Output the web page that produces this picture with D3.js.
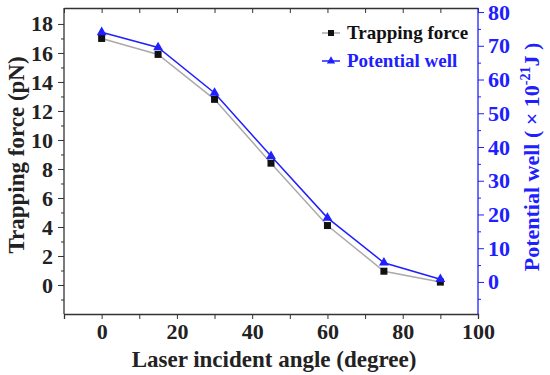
<!DOCTYPE html>
<html>
<head>
<meta charset="utf-8">
<script src="https://cdn.jsdelivr.net/npm/d3@7"></script>
<style>
  body { margin: 0; background: #fff; }
  svg text { font-family: "Times New Roman", "Liberation Serif", serif; font-weight: bold; }
</style>
</head>
<body>
<div id="app"></div>
<script>
const angles = [0, 15, 30, 45, 60, 75, 90]
const trappingForce = [17.0, 15.9, 12.8, 8.4, 4.1, 0.95, 0.2]
const potentialWell = [74, 69.5, 56, 37.3, 19, 5.7, 0.8]
const xTicks = [0, 20, 40, 60, 80, 100]
const leftTicks = [0, 2, 4, 6, 8, 10, 12, 14, 16, 18]
const rightTicks = [0, 10, 20, 30, 40, 50, 60, 70, 80]

const W = 550, H = 375
const m = { left: 64, right: 72, top: 8, bottom: 61 }
const blue = "#2020ff"

const svg = d3.select("#app").append("svg")
    .attr("width", W)
    .attr("height", H)

const x = d3.scaleLinear().domain([-10, 100]).range([m.left, W - m.right])
const yL = d3.scaleLinear().domain([-2, 19.1]).range([H - m.bottom, m.top])
const yR = d3.scaleLinear().domain([-9.5, 81.2]).range([H - m.bottom, m.top])

// bottom axis
const bx = svg.append("g")
    .attr("transform", `translate(0,${H - m.bottom})`)
    .call(d3.axisBottom(x).tickValues(d3.range(-10, 101, 10)).tickSize(5).tickPadding(4)
      .tickFormat(d => xTicks.includes(d) ? d : ""))
bx.selectAll("text").attr("font-size", 22).attr("fill", "#222")
bx.select(".domain").attr("stroke", "#333").attr("stroke-width", 1.3)
bx.selectAll(".tick line").attr("stroke", "#333")

// top axis (ticks only)
const tx = svg.append("g")
    .attr("transform", `translate(0,${m.top})`)
    .call(d3.axisTop(x).tickValues(d3.range(-10, 101, 10)).tickSizeInner(-5).tickSizeOuter(0).tickFormat(""))
tx.select(".domain").attr("stroke", "#333").attr("stroke-width", 1.3)
tx.selectAll(".tick line").attr("stroke", "#333")

// left axis
const ly = svg.append("g")
    .attr("transform", `translate(${m.left},0)`)
    .call(d3.axisLeft(yL).tickValues(d3.range(-1, 19, 1)).tickSizeOuter(0)
      .tickFormat(d => leftTicks.includes(d) ? d : "").tickPadding(5))
ly.selectAll(".tick line").attr("x2", d => leftTicks.includes(d) ? -6 : -3).attr("stroke", "#333")
ly.selectAll("text").attr("font-size", 22).attr("fill", "#222")
ly.select(".domain").attr("stroke", "#333").attr("stroke-width", 1.3)
  .attr("d", `M0,${m.top}V${H - m.bottom}`)

// right axis
const ry = svg.append("g")
    .attr("transform", `translate(${W - m.right},0)`)
    .call(d3.axisRight(yR).tickValues(d3.range(-5, 81, 5)).tickSizeOuter(0)
      .tickFormat(d => rightTicks.includes(d) ? d : "").tickPadding(4))
ry.selectAll(".tick line").attr("x2", d => rightTicks.includes(d) ? 6 : 3).attr("stroke", blue)
ry.selectAll("text").attr("font-size", 22).attr("fill", blue)
ry.select(".domain").attr("stroke", blue).attr("stroke-width", 1.3)
  .attr("d", `M0,${m.top}V${H - m.bottom}`)

// lines
const lineL = d3.line().x((d, i) => x(angles[i])).y(d => yL(d))
const lineR = d3.line().x((d, i) => x(angles[i])).y(d => yR(d))

svg.append("path").datum(trappingForce)
    .attr("d", lineL).attr("fill", "none").attr("stroke", "#aaa").attr("stroke-width", 1.5)
svg.append("path").datum(potentialWell)
    .attr("d", lineR).attr("fill", "none").attr("stroke", blue).attr("stroke-width", 1.5)

svg.selectAll("rect.sq").data(trappingForce).join("rect")
    .attr("class", "sq")
    .attr("x", (d, i) => x(angles[i]) - 3.5)
    .attr("y", d => yL(d) - 3.5)
    .attr("width", 7).attr("height", 7).attr("fill", "#111")

const tri = d3.symbol().type(d3.symbolTriangle).size(42)
svg.selectAll("path.tri").data(potentialWell).join("path")
    .attr("class", "tri")
    .attr("transform", (d, i) => `translate(${x(angles[i])},${yR(d)})`)
    .attr("d", tri).attr("fill", blue)

// legend
const leg = svg.append("g")
const legRows = [
  { label: "Trapping force", line: "#aaa", color: "#111", sym: "sq", y: 33 },
  { label: "Potential well", line: blue, color: blue, sym: "tri", y: 61 }
]
legRows.forEach(r => {
  leg.append("line").attr("x1", 322).attr("x2", 340).attr("y1", r.y).attr("y2", r.y)
    .attr("stroke", r.line).attr("stroke-width", 1.5)
  if (r.sym === "sq") {
    leg.append("rect").attr("x", 328).attr("y", r.y - 3).attr("width", 6).attr("height", 6).attr("fill", r.color)
  } else {
    leg.append("path").attr("transform", `translate(331,${r.y})`)
      .attr("d", d3.symbol().type(d3.symbolTriangle).size(30)).attr("fill", r.color)
  }
  leg.append("text").attr("x", 347).attr("y", r.y + 6).attr("font-size", 19)
    .attr("fill", r.color).text(r.label)
})

// axis titles
svg.append("text")
    .attr("x", (m.left + W - m.right) / 2 + 3).attr("y", 367)
    .attr("text-anchor", "middle").attr("font-size", 23).attr("fill", "#222")
    .text("Laser incident angle (degree)")

svg.append("text")
    .attr("transform", `translate(24,155) rotate(-90)`)
    .attr("text-anchor", "middle").attr("font-size", 23).attr("fill", "#222")
    .text("Trapping force (pN)")

const rt = svg.append("text")
    .attr("transform", `translate(539,157) rotate(-90)`)
    .attr("text-anchor", "middle").attr("font-size", 22).attr("fill", blue)
rt.append("tspan").text("Potential well ( × 10")
rt.append("tspan").attr("dy", -9).attr("font-size", 14).text("-21")
rt.append("tspan").attr("dy", 9).text("J )")
</script>
</body>
</html>
